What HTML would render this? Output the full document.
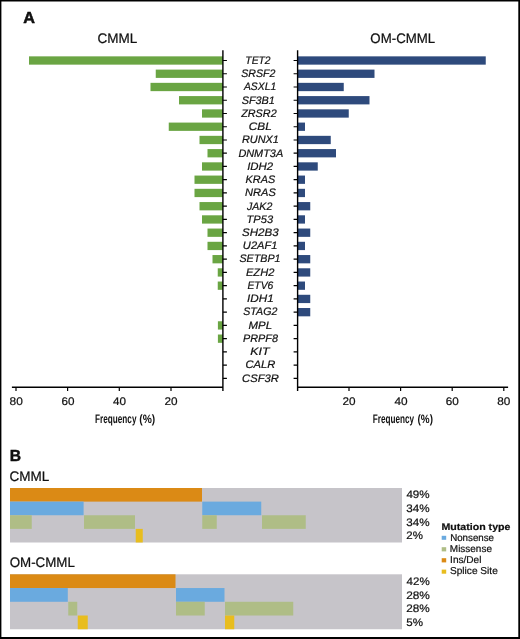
<!DOCTYPE html>
<html><head><meta charset="utf-8"><style>
html,body{margin:0;padding:0;background:#fff;}
body{width:520px;height:639px;overflow:hidden;position:relative;}
svg{position:absolute;left:0;top:0;display:block;will-change:transform;}
text{font-family:"Liberation Sans",sans-serif;fill:#111;text-rendering:geometricPrecision;}
.gene{font-size:10.5px;font-style:italic;text-anchor:middle;letter-spacing:0.3px;}
</style></head><body>
<svg width="520" height="639" viewBox="0 0 520 639">
<rect x="0" y="0" width="520" height="639" fill="#fff"/>
<rect x="29.00" y="56.35" width="193.90" height="8.3" fill="#6aa543"/>
<rect x="297.60" y="56.35" width="188.15" height="8.3" fill="#2e4a7c"/>
<rect x="155.75" y="69.60" width="67.15" height="8.3" fill="#6aa543"/>
<rect x="297.60" y="69.60" width="76.90" height="8.3" fill="#2e4a7c"/>
<rect x="150.50" y="82.84" width="72.40" height="8.3" fill="#6aa543"/>
<rect x="297.60" y="82.84" width="46.15" height="8.3" fill="#2e4a7c"/>
<rect x="179.00" y="96.09" width="43.90" height="8.3" fill="#6aa543"/>
<rect x="297.60" y="96.09" width="71.90" height="8.3" fill="#2e4a7c"/>
<rect x="202.00" y="109.33" width="20.90" height="8.3" fill="#6aa543"/>
<rect x="297.60" y="109.33" width="51.15" height="8.3" fill="#2e4a7c"/>
<rect x="168.75" y="122.58" width="54.15" height="8.3" fill="#6aa543"/>
<rect x="297.60" y="122.58" width="7.40" height="8.3" fill="#2e4a7c"/>
<rect x="199.50" y="135.83" width="23.40" height="8.3" fill="#6aa543"/>
<rect x="297.60" y="135.83" width="33.15" height="8.3" fill="#2e4a7c"/>
<rect x="207.50" y="149.07" width="15.40" height="8.3" fill="#6aa543"/>
<rect x="297.60" y="149.07" width="38.40" height="8.3" fill="#2e4a7c"/>
<rect x="202.00" y="162.32" width="20.90" height="8.3" fill="#6aa543"/>
<rect x="297.60" y="162.32" width="20.15" height="8.3" fill="#2e4a7c"/>
<rect x="194.50" y="175.56" width="28.40" height="8.3" fill="#6aa543"/>
<rect x="297.60" y="175.56" width="7.40" height="8.3" fill="#2e4a7c"/>
<rect x="194.50" y="188.81" width="28.40" height="8.3" fill="#6aa543"/>
<rect x="297.60" y="188.81" width="7.40" height="8.3" fill="#2e4a7c"/>
<rect x="199.50" y="202.06" width="23.40" height="8.3" fill="#6aa543"/>
<rect x="297.60" y="202.06" width="12.65" height="8.3" fill="#2e4a7c"/>
<rect x="202.00" y="215.30" width="20.90" height="8.3" fill="#6aa543"/>
<rect x="297.60" y="215.30" width="7.40" height="8.3" fill="#2e4a7c"/>
<rect x="207.50" y="228.55" width="15.40" height="8.3" fill="#6aa543"/>
<rect x="297.60" y="228.55" width="12.65" height="8.3" fill="#2e4a7c"/>
<rect x="207.50" y="241.79" width="15.40" height="8.3" fill="#6aa543"/>
<rect x="297.60" y="241.79" width="7.40" height="8.3" fill="#2e4a7c"/>
<rect x="212.50" y="255.04" width="10.40" height="8.3" fill="#6aa543"/>
<rect x="297.60" y="255.04" width="12.65" height="8.3" fill="#2e4a7c"/>
<rect x="217.75" y="268.29" width="5.15" height="8.3" fill="#6aa543"/>
<rect x="297.60" y="268.29" width="12.65" height="8.3" fill="#2e4a7c"/>
<rect x="217.75" y="281.53" width="5.15" height="8.3" fill="#6aa543"/>
<rect x="297.60" y="281.53" width="7.40" height="8.3" fill="#2e4a7c"/>
<rect x="297.60" y="294.78" width="12.65" height="8.3" fill="#2e4a7c"/>
<rect x="297.60" y="308.02" width="12.65" height="8.3" fill="#2e4a7c"/>
<rect x="217.90" y="321.27" width="5.00" height="8.3" fill="#6aa543"/>
<rect x="217.90" y="334.52" width="5.00" height="8.3" fill="#6aa543"/>
<path d="M222.9 50.2V391M297.6 50.2V391M11.9 387.2H222.9M297.6 387.2H508.1" stroke="#000" stroke-width="1.4" fill="none"/>
<path d="M222.9 60.50h4M293.6 60.50h4M222.9 73.75h4M293.6 73.75h4M222.9 86.99h4M293.6 86.99h4M222.9 100.24h4M293.6 100.24h4M222.9 113.48h4M293.6 113.48h4M222.9 126.73h4M293.6 126.73h4M222.9 139.98h4M293.6 139.98h4M222.9 153.22h4M293.6 153.22h4M222.9 166.47h4M293.6 166.47h4M222.9 179.71h4M293.6 179.71h4M222.9 192.96h4M293.6 192.96h4M222.9 206.21h4M293.6 206.21h4M222.9 219.45h4M293.6 219.45h4M222.9 232.70h4M293.6 232.70h4M222.9 245.94h4M293.6 245.94h4M222.9 259.19h4M293.6 259.19h4M222.9 272.44h4M293.6 272.44h4M222.9 285.68h4M293.6 285.68h4M222.9 298.93h4M293.6 298.93h4M222.9 312.17h4M293.6 312.17h4M222.9 325.42h4M293.6 325.42h4M222.9 338.67h4M293.6 338.67h4M222.9 351.91h4M293.6 351.91h4M222.9 365.16h4M293.6 365.16h4M222.9 378.40h4M293.6 378.40h4M16.0 387.2V391M67.6 387.2V391M119.3 387.2V391M171.0 387.2V391M349.0 387.2V391M400.6 387.2V391M452.2 387.2V391M503.8 387.2V391" stroke="#000" stroke-width="1.2" fill="none"/>
<text id="A" x="23.24" y="22.80" font-size="16.00" font-weight="bold" textLength="11.70" lengthAdjust="spacingAndGlyphs" fill="#000" stroke="#000" stroke-width="0.5">A</text>
<text id="B" x="9.63" y="460.70" font-size="16.00" font-weight="bold" textLength="11.34" lengthAdjust="spacingAndGlyphs" fill="#000" stroke="#000" stroke-width="0.4">B</text>
<text id="CMMLt" x="97.56" y="43.00" font-size="13.80" textLength="39.79" lengthAdjust="spacingAndGlyphs" fill="#111" stroke="#111" stroke-width="0.22">CMML</text>
<text id="OMt" x="370.37" y="43.00" font-size="13.80" textLength="64.82" lengthAdjust="spacingAndGlyphs" fill="#111" stroke="#111" stroke-width="0.22">OM-CMML</text>
<text id="CMMLs" x="9.56" y="480.80" font-size="13.80" textLength="39.82" lengthAdjust="spacingAndGlyphs" fill="#111" stroke="#111" stroke-width="0.22">CMML</text>
<text id="OMs" x="9.65" y="567.00" font-size="13.80" textLength="65.29" lengthAdjust="spacingAndGlyphs" fill="#111" stroke="#111" stroke-width="0.22">OM-CMML</text>
<text id="p49" x="406.43" y="498.10" font-size="10.90" textLength="23.24" lengthAdjust="spacingAndGlyphs" fill="#111" stroke="#111" stroke-width="0.22">49%</text>
<text id="p34a" x="406.32" y="511.70" font-size="10.90" textLength="23.34" lengthAdjust="spacingAndGlyphs" fill="#111" stroke="#111" stroke-width="0.22">34%</text>
<text id="p34b" x="406.32" y="525.50" font-size="10.90" textLength="23.34" lengthAdjust="spacingAndGlyphs" fill="#111" stroke="#111" stroke-width="0.22">34%</text>
<text id="p2" x="406.27" y="539.40" font-size="10.90" textLength="16.60" lengthAdjust="spacingAndGlyphs" fill="#111" stroke="#111" stroke-width="0.22">2%</text>
<text id="p42" x="406.56" y="584.50" font-size="10.90" textLength="23.16" lengthAdjust="spacingAndGlyphs" fill="#111" stroke="#111" stroke-width="0.22">42%</text>
<text id="p28a" x="406.17" y="598.50" font-size="10.90" textLength="23.72" lengthAdjust="spacingAndGlyphs" fill="#111" stroke="#111" stroke-width="0.22">28%</text>
<text id="p28b" x="406.23" y="611.90" font-size="10.90" textLength="23.51" lengthAdjust="spacingAndGlyphs" fill="#111" stroke="#111" stroke-width="0.22">28%</text>
<text id="p5" x="406.25" y="625.50" font-size="10.90" textLength="16.72" lengthAdjust="spacingAndGlyphs" fill="#111" stroke="#111" stroke-width="0.22">5%</text>
<text id="FqL" x="95.04" y="422.60" font-size="12.50" font-weight="bold" textLength="41.41" lengthAdjust="spacingAndGlyphs" fill="#111">Frequency</text>
<text id="PcL" x="139.37" y="422.60" font-size="12.10" font-weight="bold" textLength="15.92" lengthAdjust="spacingAndGlyphs" fill="#111">(%)</text>
<text id="FqR" x="372.73" y="422.60" font-size="12.50" font-weight="bold" textLength="41.34" lengthAdjust="spacingAndGlyphs" fill="#111">Frequency</text>
<text id="PcR" x="417.54" y="422.60" font-size="12.10" font-weight="bold" textLength="15.40" lengthAdjust="spacingAndGlyphs" fill="#111">(%)</text>
<text id="t80L" x="9.54" y="404.60" font-size="11.07" textLength="13.21" lengthAdjust="spacingAndGlyphs" fill="#111" stroke="#111" stroke-width="0.22">80</text>
<text id="t60L" x="61.47" y="404.60" font-size="11.07" textLength="12.99" lengthAdjust="spacingAndGlyphs" fill="#111" stroke="#111" stroke-width="0.22">60</text>
<text id="t40L" x="113.00" y="404.60" font-size="11.07" textLength="13.01" lengthAdjust="spacingAndGlyphs" fill="#111" stroke="#111" stroke-width="0.22">40</text>
<text id="t20L" x="164.49" y="404.60" font-size="11.07" textLength="13.07" lengthAdjust="spacingAndGlyphs" fill="#111" stroke="#111" stroke-width="0.22">20</text>
<text id="t20R" x="342.49" y="404.60" font-size="11.07" textLength="13.07" lengthAdjust="spacingAndGlyphs" fill="#111" stroke="#111" stroke-width="0.22">20</text>
<text id="t40R" x="394.41" y="404.60" font-size="11.07" textLength="13.16" lengthAdjust="spacingAndGlyphs" fill="#111" stroke="#111" stroke-width="0.22">40</text>
<text id="t60R" x="445.72" y="404.60" font-size="11.07" textLength="13.03" lengthAdjust="spacingAndGlyphs" fill="#111" stroke="#111" stroke-width="0.22">60</text>
<text id="t80R" x="497.27" y="404.60" font-size="11.07" textLength="13.10" lengthAdjust="spacingAndGlyphs" fill="#111" stroke="#111" stroke-width="0.22">80</text>
<text id="Mut" x="441.53" y="529.60" font-size="9.60" font-weight="bold" textLength="68.89" lengthAdjust="spacingAndGlyphs" fill="#000" stroke="#000" stroke-width="0.2">Mutation type</text>
<text id="Nons" x="450.14" y="541.10" font-size="10.00" textLength="43.89" lengthAdjust="spacingAndGlyphs" fill="#111" stroke="#111" stroke-width="0.22">Nonsense</text>
<text id="Miss" x="449.87" y="552.20" font-size="10.00" textLength="42.08" lengthAdjust="spacingAndGlyphs" fill="#111" stroke="#111" stroke-width="0.22">Missense</text>
<text id="Ins" x="450.10" y="563.40" font-size="10.00" textLength="31.34" lengthAdjust="spacingAndGlyphs" fill="#111" stroke="#111" stroke-width="0.22">Ins/Del</text>
<text id="Spl" x="450.00" y="574.30" font-size="10.00" textLength="47.79" lengthAdjust="spacingAndGlyphs" fill="#111" stroke="#111" stroke-width="0.22">Splice Site</text>
<text id="g_TET2" x="245.37" y="63.80" font-size="10.90" font-style="italic" textLength="25.27" lengthAdjust="spacingAndGlyphs" fill="#111" stroke="#111" stroke-width="0.22">TET2</text>
<text id="g_SRSF2" x="241.31" y="77.05" font-size="10.90" font-style="italic" textLength="34.20" lengthAdjust="spacingAndGlyphs" fill="#111" stroke="#111" stroke-width="0.22">SRSF2</text>
<text id="g_ASXL1" x="243.96" y="90.29" font-size="10.90" font-style="italic" textLength="32.26" lengthAdjust="spacingAndGlyphs" fill="#111" stroke="#111" stroke-width="0.22">ASXL1</text>
<text id="g_SF3B1" x="241.64" y="103.54" font-size="10.90" font-style="italic" textLength="33.26" lengthAdjust="spacingAndGlyphs" fill="#111" stroke="#111" stroke-width="0.22">SF3B1</text>
<text id="g_ZRSR2" x="241.16" y="116.78" font-size="10.90" font-style="italic" textLength="35.49" lengthAdjust="spacingAndGlyphs" fill="#111" stroke="#111" stroke-width="0.22">ZRSR2</text>
<text id="g_CBL" x="248.80" y="130.03" font-size="10.90" font-style="italic" textLength="22.92" lengthAdjust="spacingAndGlyphs" fill="#111" stroke="#111" stroke-width="0.22">CBL</text>
<text id="g_RUNX1" x="241.92" y="143.28" font-size="10.90" font-style="italic" textLength="37.00" lengthAdjust="spacingAndGlyphs" fill="#111" stroke="#111" stroke-width="0.22">RUNX1</text>
<text id="g_DNMT3A" x="238.40" y="156.52" font-size="10.90" font-style="italic" textLength="44.76" lengthAdjust="spacingAndGlyphs" fill="#111" stroke="#111" stroke-width="0.22">DNMT3A</text>
<text id="g_IDH2" x="247.16" y="169.77" font-size="10.90" font-style="italic" textLength="25.98" lengthAdjust="spacingAndGlyphs" fill="#111" stroke="#111" stroke-width="0.22">IDH2</text>
<text id="g_KRAS" x="245.61" y="183.01" font-size="10.90" font-style="italic" textLength="29.56" lengthAdjust="spacingAndGlyphs" fill="#111" stroke="#111" stroke-width="0.22">KRAS</text>
<text id="g_NRAS" x="245.07" y="196.26" font-size="10.90" font-style="italic" textLength="30.77" lengthAdjust="spacingAndGlyphs" fill="#111" stroke="#111" stroke-width="0.22">NRAS</text>
<text id="g_JAK2" x="247.03" y="209.51" font-size="10.90" font-style="italic" textLength="25.26" lengthAdjust="spacingAndGlyphs" fill="#111" stroke="#111" stroke-width="0.22">JAK2</text>
<text id="g_TP53" x="246.62" y="222.75" font-size="10.90" font-style="italic" textLength="26.44" lengthAdjust="spacingAndGlyphs" fill="#111" stroke="#111" stroke-width="0.22">TP53</text>
<text id="g_SH2B3" x="241.91" y="236.00" font-size="10.90" font-style="italic" textLength="36.68" lengthAdjust="spacingAndGlyphs" fill="#111" stroke="#111" stroke-width="0.22">SH2B3</text>
<text id="g_U2AF1" x="242.89" y="249.24" font-size="10.90" font-style="italic" textLength="34.50" lengthAdjust="spacingAndGlyphs" fill="#111" stroke="#111" stroke-width="0.22">U2AF1</text>
<text id="g_SETBP1" x="239.45" y="262.49" font-size="10.90" font-style="italic" textLength="41.13" lengthAdjust="spacingAndGlyphs" fill="#111" stroke="#111" stroke-width="0.22">SETBP1</text>
<text id="g_EZH2" x="245.94" y="275.74" font-size="10.90" font-style="italic" textLength="28.40" lengthAdjust="spacingAndGlyphs" fill="#111" stroke="#111" stroke-width="0.22">EZH2</text>
<text id="g_ETV6" x="247.48" y="288.98" font-size="10.90" font-style="italic" textLength="25.81" lengthAdjust="spacingAndGlyphs" fill="#111" stroke="#111" stroke-width="0.22">ETV6</text>
<text id="g_IDH1" x="247.14" y="302.23" font-size="10.90" font-style="italic" textLength="26.58" lengthAdjust="spacingAndGlyphs" fill="#111" stroke="#111" stroke-width="0.22">IDH1</text>
<text id="g_STAG2" x="243.31" y="315.47" font-size="10.90" font-style="italic" textLength="34.01" lengthAdjust="spacingAndGlyphs" fill="#111" stroke="#111" stroke-width="0.22">STAG2</text>
<text id="g_MPL" x="248.55" y="328.72" font-size="10.90" font-style="italic" textLength="23.47" lengthAdjust="spacingAndGlyphs" fill="#111" stroke="#111" stroke-width="0.22">MPL</text>
<text id="g_PRPF8" x="243.02" y="341.97" font-size="10.90" font-style="italic" textLength="34.91" lengthAdjust="spacingAndGlyphs" fill="#111" stroke="#111" stroke-width="0.22">PRPF8</text>
<text id="g_KIT" x="250.39" y="355.21" font-size="10.90" font-style="italic" textLength="19.20" lengthAdjust="spacingAndGlyphs" fill="#111" stroke="#111" stroke-width="0.22">KIT</text>
<text id="g_CALR" x="245.50" y="368.46" font-size="10.90" font-style="italic" textLength="29.82" lengthAdjust="spacingAndGlyphs" fill="#111" stroke="#111" stroke-width="0.22">CALR</text>
<text id="g_CSF3R" x="242.09" y="381.70" font-size="10.90" font-style="italic" textLength="36.82" lengthAdjust="spacingAndGlyphs" fill="#111" stroke="#111" stroke-width="0.22">CSF3R</text>
<rect x="10" y="488.0" width="392" height="54.50" fill="#c6c4c9"/>
<rect x="10" y="488.00" width="192.00" height="13.62" fill="#db8a15"/>
<rect x="10" y="501.62" width="73.60" height="13.62" fill="#6aaadf"/>
<rect x="202.25" y="501.62" width="59.00" height="13.62" fill="#6aaadf"/>
<rect x="10" y="515.25" width="21.75" height="13.62" fill="#afbd86"/>
<rect x="84" y="515.25" width="51.00" height="13.62" fill="#afbd86"/>
<rect x="202.25" y="515.25" width="14.50" height="13.62" fill="#afbd86"/>
<rect x="262" y="515.25" width="43.75" height="13.62" fill="#afbd86"/>
<rect x="135.75" y="528.88" width="7.00" height="13.62" fill="#e8bd1e"/>
<rect x="10" y="574.3" width="392" height="54.96" fill="#c6c4c9"/>
<rect x="10" y="574.30" width="165.50" height="13.74" fill="#db8a15"/>
<rect x="10" y="588.04" width="57.80" height="13.74" fill="#6aaadf"/>
<rect x="176" y="588.04" width="48.50" height="13.74" fill="#6aaadf"/>
<rect x="68.25" y="601.78" width="9.00" height="13.74" fill="#afbd86"/>
<rect x="176" y="601.78" width="28.75" height="13.74" fill="#afbd86"/>
<rect x="225" y="601.78" width="68.25" height="13.74" fill="#afbd86"/>
<rect x="77.75" y="615.52" width="10.00" height="13.74" fill="#e8bd1e"/>
<rect x="225" y="615.52" width="9.25" height="13.74" fill="#e8bd1e"/>
<rect x="441.7" y="535.8" width="4.5" height="4.00" fill="#6aaadf"/>
<rect x="441.7" y="547.2" width="4.5" height="4.20" fill="#afbd86"/>
<rect x="441.7" y="558.2" width="4.5" height="4.20" fill="#db8a15"/>
<rect x="441.7" y="569.6" width="4.5" height="4.10" fill="#e8bd1e"/>
<path d="M0 0H520V639H0Z M1.4 1.5V637H518.3V1.5Z" fill="#000" fill-rule="evenodd"/>
</svg>
</body></html>
